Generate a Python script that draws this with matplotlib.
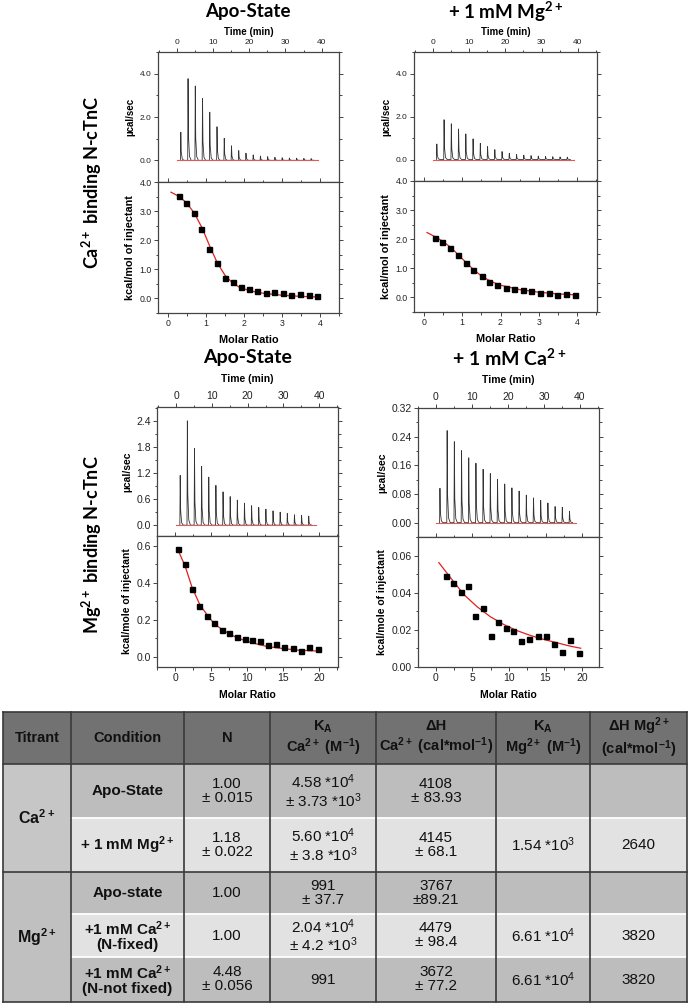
import numpy as np
import matplotlib.pyplot as plt
from matplotlib.patches import Rectangle
from matplotlib.ticker import MultipleLocator, FormatStrFormatter

plt.rcParams['font.family'] = ['Liberation Sans', 'DejaVu Sans']

W, H = 690, 1006

###   raw thermograms (peak heights, ucal/sec)   ###
t_inj = [1, 3, 5, 7, 9, 11, 13, 15, 17, 19, 21, 23, 25, 27, 29, 31, 33, 35, 37]
run_end = 39

peaks_ca_apo = [1.30, 3.77, 3.43, 2.85, 2.22, 1.55, 1.02, 0.67, 0.45, 0.33, 0.25, 0.20,
                0.17, 0.14, 0.12, 0.11, 0.10, 0.09, 0.08]
peaks_ca_mg = [0.72, 1.85, 1.66, 1.42, 1.19, 0.96, 0.75, 0.60, 0.46, 0.37, 0.29, 0.24,
               0.20, 0.18, 0.16, 0.14, 0.13, 0.12, 0.11]
peaks_mg_apo = [1.15, 2.41, 1.77, 1.36, 1.11, 0.92, 0.77, 0.66, 0.58, 0.51, 0.45, 0.41,
                0.37, 0.33, 0.30, 0.27, 0.24, 0.23, 0.21]
peaks_mg_ca = [0.096, 0.257, 0.226, 0.201, 0.181, 0.166, 0.149, 0.137, 0.121, 0.108,
               0.097, 0.088, 0.077, 0.069, 0.062, 0.055, 0.045, 0.043, 0.032]

###   integrated heats   ###
mr_ca_apo = [0.28, 0.48, 0.68, 0.88, 1.09, 1.29, 1.50, 1.71, 1.93, 2.14, 2.35, 2.58,
             2.80, 3.02, 3.24, 3.47, 3.70, 3.93]
q_ca_apo = [3.52, 3.28, 2.92, 2.37, 1.69, 1.21, 0.69, 0.55, 0.38, 0.31, 0.26, 0.17,
            0.21, 0.17, 0.13, 0.15, 0.11, 0.08]
fit_x_ca_apo = [0.08, 0.3, 0.5, 0.7, 0.9, 1.1, 1.3, 1.5, 1.7, 1.9, 2.2, 2.5, 3.0, 3.5, 3.95]
fit_y_ca_apo = [3.65, 3.50, 3.27, 2.92, 2.42, 1.80, 1.22, 0.80, 0.53, 0.37, 0.25, 0.18,
                0.11, 0.07, 0.05]

mr_ca_mg = [0.29, 0.48, 0.68, 0.88, 1.09, 1.29, 1.51, 1.71, 1.92, 2.14, 2.36, 2.58,
            2.79, 3.03, 3.26, 3.48, 3.71, 3.95]
q_ca_mg = [2.03, 1.92, 1.70, 1.46, 1.17, 0.93, 0.74, 0.54, 0.43, 0.33, 0.29, 0.24,
           0.21, 0.16, 0.15, 0.10, 0.11, 0.09]
fit_x_ca_mg = [0.08, 0.3, 0.5, 0.7, 0.9, 1.1, 1.3, 1.5, 1.75, 2.0, 2.5, 3.0, 3.5, 3.95]
fit_y_ca_mg = [2.23, 2.08, 1.92, 1.72, 1.46, 1.20, 0.95, 0.74, 0.55, 0.42, 0.27, 0.18,
               0.12, 0.09]

mr_mg_apo = [0.37, 1.39, 2.36, 3.37, 4.39, 5.40, 6.47, 7.53, 8.55, 9.65, 10.7, 11.8,
             12.9, 14.0, 15.15, 16.3, 17.4, 18.6, 19.8]
q_mg_apo = [0.584, 0.500, 0.366, 0.277, 0.221, 0.182, 0.146, 0.130, 0.107, 0.096, 0.089,
            0.084, 0.063, 0.068, 0.054, 0.050, 0.032, 0.055, 0.045]
fit_x_mg_apo = [0.37, 1.4, 2.36, 3.46, 4.4, 5.4, 6.7, 8.55, 10.4, 12.7, 15.0, 17.3, 19.8]
fit_y_mg_apo = [0.580, 0.490, 0.375, 0.280, 0.230, 0.180, 0.143, 0.104, 0.079, 0.057,
                0.045, 0.036, 0.032]

mr_mg_ca = [1.41, 2.41, 3.41, 4.41, 5.41, 6.45, 7.50, 8.55, 9.55, 10.6, 11.7, 12.8,
            13.95, 15.05, 16.1, 17.3, 18.4, 19.55]
q_mg_ca = [0.0492, 0.0454, 0.0404, 0.0436, 0.0277, 0.0319, 0.0169, 0.0243, 0.0211,
           0.0193, 0.0139, 0.0151, 0.0169, 0.0166, 0.0123, 0.0081, 0.0144, 0.0076]
fit_x_mg_ca = [0.45, 2.05, 3.86, 5.68, 7.5, 9.3, 11.1, 13.0, 14.8, 16.6, 18.4, 19.8]
fit_y_mg_ca = [0.0562, 0.0480, 0.0390, 0.0324, 0.0270, 0.0229, 0.0196, 0.0169, 0.0148,
               0.0130, 0.0112, 0.0101]

###   table   ###
col_heads = ['Titrant', 'Condition', 'N',
             '$\\mathregular{K_A}$\n$\\mathregular{Ca^{2+}}$ ($\\mathregular{M^{-1}}$)',
             '\u0394H\n$\\mathregular{Ca^{2+}}$ (cal*$\\mathregular{mol^{-1}}$)',
             '$\\mathregular{K_A}$\n$\\mathregular{Mg^{2+}}$ ($\\mathregular{M^{-1}}$)',
             '\u0394H $\\mathregular{Mg^{2+}}$\n(cal*$\\mathregular{mol^{-1}}$)']
titrants = ['$\\mathregular{Ca^{2+}}$', '$\\mathregular{Mg^{2+}}$']
conditions = ['Apo-State', '+ 1 mM $\\mathregular{Mg^{2+}}$', 'Apo-state',
              '+1 mM $\\mathregular{Ca^{2+}}$\n(N-fixed)',
              '+1 mM $\\mathregular{Ca^{2+}}$\n(N-not fixed)']
n_vals = ['1.00\n\u00b1 0.015', '1.18\n\u00b1 0.022', '1.00', '1.00', '4.48\n\u00b1 0.056']
ka_ca = ['4.58 *$\\mathregular{10^4}$\n\u00b1 3.73 *$\\mathregular{10^3}$',
         '5.60 *$\\mathregular{10^4}$\n\u00b1 3.8 *$\\mathregular{10^3}$',
         '991\n\u00b1 37.7',
         '2.04 *$\\mathregular{10^4}$\n\u00b1 4.2 *$\\mathregular{10^3}$',
         '991']
dh_ca = ['4108\n\u00b1 83.93', '4145\n\u00b1 68.1', '3767\n\u00b189.21', '4479\n\u00b1 98.4',
         '3672\n\u00b1 77.2']
ka_mg = ['', '1.54 *$\\mathregular{10^3}$', '', '6.61 *$\\mathregular{10^4}$',
         '6.61 *$\\mathregular{10^4}$']
dh_mg = ['', '2640', '', '3820', '3820']


def rect(x0, y0, x1, y1):
    return [x0 / W, 1 - y1 / H, (x1 - x0) / W, (y1 - y0) / H]


def style(ax, fs):
    for s in ax.spines.values():
        s.set_linewidth(0.9)
        s.set_color('#444444')
    ax.tick_params(which='both', direction='out', colors='#444444', labelcolor='#222222',
                   labelsize=fs, width=0.7, pad=1.5, right=True, top=True)
    ax.tick_params(which='major', length=3)
    ax.tick_params(which='minor', length=1.8)


def upper(ax, peaks, xlim, ylim, step, fmt, fs, lfs, lpad):
    xs, ys = [], []
    for t, h in zip(t_inj, peaks):
        xs += [t, t + 0.1, t + 0.22, t + 0.5, t + 0.95]
        ys += [0, h, 0.3 * h, 0.05 * h, 0]
    ax.plot(xs, ys, color='#333333', lw=0.6)
    ax.plot([0, run_end], [0, 0], color='#e05a5a', lw=0.8)
    ax.set_xlim(xlim)
    ax.set_ylim(ylim)
    style(ax, fs)
    ax.tick_params(axis='x', labeltop=True, labelbottom=False)
    ax.xaxis.set_label_position('top')
    ax.set_xlabel('Time (min)', fontsize=lfs, fontweight='bold', labelpad=lpad)
    ax.set_ylabel('\u00b5cal/sec', fontsize=lfs, fontweight='bold', labelpad=3)
    ax.xaxis.set_major_locator(MultipleLocator(10))
    ax.xaxis.set_minor_locator(MultipleLocator(5))
    ax.yaxis.set_major_locator(MultipleLocator(step))
    ax.yaxis.set_minor_locator(MultipleLocator(step / 2))
    ax.yaxis.set_major_formatter(FormatStrFormatter(fmt))


def lower(ax, mr, q, fx, fy, xlim, ylim, xstep, ystep, fmt, ylab, fs, lfs):
    ax.plot(fx, fy, color='#e02020', lw=0.9)
    ax.plot(mr, q, 's', color='black', ms=3.6)
    ax.set_xlim(xlim)
    ax.set_ylim(ylim)
    style(ax, fs)
    ax.set_xlabel('Molar Ratio', fontsize=lfs, fontweight='bold', labelpad=5)
    ax.set_ylabel(ylab, fontsize=lfs, fontweight='bold', labelpad=3)
    ax.xaxis.set_major_locator(MultipleLocator(xstep))
    ax.xaxis.set_minor_locator(MultipleLocator(xstep / 2))
    ax.yaxis.set_major_locator(MultipleLocator(ystep))
    ax.yaxis.set_minor_locator(MultipleLocator(ystep / 2))
    ax.yaxis.set_major_formatter(FormatStrFormatter(fmt))


def ftext(x, y, s, **kw):
    fig.text(x / W, 1 - y / H, s, **kw)


fig = plt.figure(figsize=(6.9, 10.06), dpi=100)

title_font = dict(family=['Lato', 'DejaVu Sans'], fontweight='bold', ha='center', va='center')

# Ca2+ titration
ax1 = fig.add_axes(rect(158, 52, 339, 182))
upper(ax1, peaks_ca_apo, (-5.2, 44.8), (-1, 5), 2.0, '%.1f', 6, 7, 3)
ax2 = fig.add_axes(rect(158, 182, 339, 313))
lower(ax2, mr_ca_apo, q_ca_apo, fit_x_ca_apo, fit_y_ca_apo, (-0.26, 4.5), (-0.5, 4.0),
      1, 1.0, '%.1f', 'kcal/mol of injectant', 6.3, 7.8)

ax3 = fig.add_axes(rect(414, 52, 597, 181))
upper(ax3, peaks_ca_mg, (-5.2, 45.3), (-1, 5), 2.0, '%.1f', 6, 7, 3)
ax4 = fig.add_axes(rect(414, 181, 597, 312))
lower(ax4, mr_ca_mg, q_ca_mg, fit_x_ca_mg, fit_y_ca_mg, (-0.26, 4.52), (-0.5, 4.0),
      1, 1.0, '%.1f', 'kcal/mol of injectant', 6.3, 7.8)

# Mg2+ titration
ax5 = fig.add_axes(rect(157, 407, 338, 536))
upper(ax5, peaks_mg_apo, (-5.4, 45.3), (-0.25, 2.73), 0.6, '%.1f', 7.5, 7.5, 6)
ax6 = fig.add_axes(rect(157, 536, 338, 667))
lower(ax6, mr_mg_apo, q_mg_apo, fit_x_mg_apo, fit_y_mg_apo, (-2.5, 22.6), (-0.054, 0.652),
      5, 0.2, '%.1f', 'kcal/mole of injectant', 7.5, 7.5)

ax7 = fig.add_axes(rect(418, 408, 599, 537))
upper(ax7, peaks_mg_ca, (-5.0, 45.3), (-0.04, 0.32), 0.08, '%.2f', 7.5, 7.5, 6)
ax8 = fig.add_axes(rect(418, 537, 599, 667))
lower(ax8, mr_mg_ca, q_mg_ca, fit_x_mg_ca, fit_y_mg_ca, (-2.4, 22.3), (0, 0.07),
      5, 0.02, '%.2f', 'kcal/mole of injectant', 7.5, 7.5)

ftext(248, 12, 'Apo-State', fontsize=13.5, **title_font)
ftext(506, 12, '+ 1 mM $\\mathregular{Mg^{2+}}$', fontsize=13.5, **title_font)
ftext(248, 358, 'Apo-State', fontsize=14, **title_font)
ftext(509, 358, '+ 1 mM $\\mathregular{Ca^{2+}}$', fontsize=14, **title_font)
ftext(92, 182, '$\\mathregular{Ca^{2+}}$ binding N-cTnC', fontsize=13, rotation=90, **title_font)
ftext(92, 545, '$\\mathregular{Mg^{2+}}$ binding N-cTnC', fontsize=13, rotation=90, **title_font)

# table drawn in pixel space
tab = fig.add_axes([0, 0, 1, 1])
tab.set_xlim(0, W)
tab.set_ylim(H, 0)
tab.axis('off')
tab.set_zorder(-1)

col_x = [3, 71, 184, 270, 376, 496, 590, 687]
row_y = [712, 764, 818, 872, 914, 957, 1002]
row_colors = ['#bdbdbd', '#e2e2e2', '#bdbdbd', '#e2e2e2', '#bdbdbd']
dark = '#3a3a3a'

for c in range(7):
    tab.add_patch(Rectangle((col_x[c], row_y[0]), col_x[c + 1] - col_x[c], row_y[1] - row_y[0],
                            facecolor='#727272', edgecolor='none'))
    tab.text((col_x[c] + col_x[c + 1]) / 2, (row_y[0] + row_y[1]) / 2, col_heads[c],
             ha='center', va='center', fontsize=10.5, fontweight='bold', color='#111111',
             linespacing=1.1)

tab.add_patch(Rectangle((col_x[0], row_y[1]), col_x[1] - col_x[0], row_y[3] - row_y[1],
                        facecolor='#c6c6c6', edgecolor='none'))
tab.add_patch(Rectangle((col_x[0], row_y[3]), col_x[1] - col_x[0], row_y[6] - row_y[3],
                        facecolor='#c0c0c0', edgecolor='none'))
tab.text((col_x[0] + col_x[1]) / 2, (row_y[1] + row_y[3]) / 2, titrants[0], ha='center',
         va='center', fontsize=11.5, fontweight='bold', color='#111111')
tab.text((col_x[0] + col_x[1]) / 2, (row_y[3] + row_y[6]) / 2, titrants[1], ha='center',
         va='center', fontsize=11.5, fontweight='bold', color='#111111')

body = [conditions, n_vals, ka_ca, dh_ca, ka_mg, dh_mg]
for r in range(5):
    y0, y1 = row_y[r + 1], row_y[r + 2]
    tab.add_patch(Rectangle((col_x[1], y0), col_x[7] - col_x[1], y1 - y0,
                            facecolor=row_colors[r], edgecolor='none'))
    for c in range(6):
        tab.text((col_x[c + 1] + col_x[c + 2]) / 2, (y0 + y1) / 2, body[c][r], ha='center',
                 va='center', fontsize=11,
                 fontweight='bold' if c == 0 else 'normal', color='#111111',
                 linespacing=1.0)

# row separators
for r in (2, 4, 5):
    tab.plot([col_x[1], col_x[7]], [row_y[r], row_y[r]], color='white', lw=1.3)
tab.plot([col_x[0], col_x[7]], [row_y[1], row_y[1]], color=dark, lw=1.2)
tab.plot([col_x[0], col_x[7]], [row_y[3], row_y[3]], color=dark, lw=1.2)
for x in col_x:
    tab.plot([x, x], [row_y[0], row_y[-1]], color=dark, lw=1.2)
tab.plot([col_x[0], col_x[7]], [row_y[0], row_y[0]], color=dark, lw=1.2)
tab.plot([col_x[0], col_x[7]], [row_y[-1], row_y[-1]], color=dark, lw=1.2)

fig.savefig('out.png', dpi=100)
